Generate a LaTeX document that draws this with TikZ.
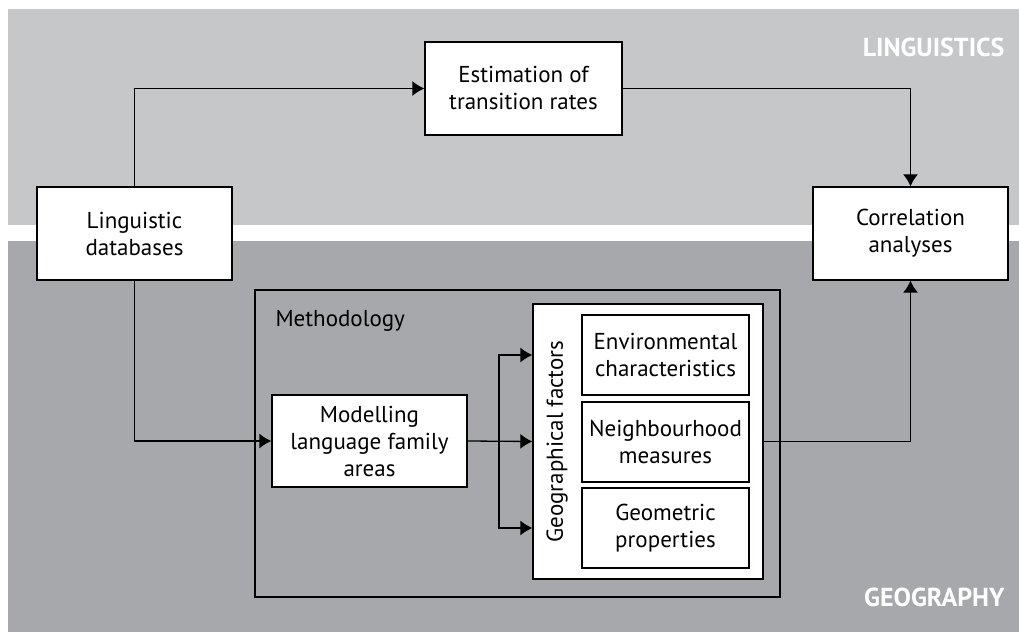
\documentclass[tikz,border=0pt]{standalone}
\usepackage{fontspec}
\setmainfont{PT Sans}
\usetikzlibrary{positioning,arrows.meta}
\definecolor{lingband}{HTML}{C6C7C9}
\definecolor{geoband}{HTML}{A7A8AB}

\begin{document}
\begin{tikzpicture}[x=1pt, y=1pt, >={Latex[length=12pt,width=15pt]},
    every node/.style={font=\fontsize{23}{27}\selectfont, align=center},
    block/.style={draw, fill=white, line width=1.3pt, inner sep=0pt},
    band/.style={font=\fontsize{26}{30}\selectfont\bfseries, text=white, anchor=east}
]
    \useasboundingbox (0,0) rectangle (1019,632);
    % Background bands
    \fill[lingband] (8,623) rectangle (1019,407);
    \fill[geoband] (8,391) rectangle (1019,0);
    \node[band] (LingLabel) at (1008,585) {LINGUISTICS};
    \node[band] (GeoLabel) at (1008,35) {GEOGRAPHY};

    % Methodology frame
    \node [draw,
        line width=1.3pt,
        minimum width=525pt,
        minimum height=307pt
    ] (Method) at (517.5,188.5) {};
    \node [anchor=base west] (MethodLabel) at (272,305) {Methodology};

    % Main blocks
    \node [block,
        minimum width=195pt,
        minimum height=93pt
    ] (LingDB) at (134.5,398.5) {Linguistic\\databases};
    \node [block,
        minimum width=197pt,
        minimum height=93pt
    ] (Estim) at (523.5,543.5) {Estimation of\\transition rates};
    \node [block,
        minimum width=195pt,
        minimum height=93pt
    ] (Corr) at (910.5,398.5) {Correlation\\analyses};
    \node [block,
        minimum width=195pt,
        minimum height=92pt
    ] (Model) at (369.5,191) {Modelling\\language family\\areas};

    % Geographical factors
    \node [block,
        minimum width=230pt,
        minimum height=275pt
    ] (Geo) at (648,190.5) {};
    \node [rotate=90] (GeoLabelV) at (557,190.5) {Geographical factors};
    \node [block,
        minimum width=167pt,
        minimum height=80pt
    ] (Env) at (665.5,277) {Environmental\\characteristics};
    \node [block,
        minimum width=167pt,
        minimum height=80pt
    ] (Neigh) at (665.5,190) {Neighbourhood\\measures};
    \node [block,
        minimum width=167pt,
        minimum height=80pt
    ] (Geom) at (665.5,104) {Geometric\\properties};

    % Arrows
    \begin{scope}[line width=1.3pt]
    \draw[->] (LingDB.north) |- (Estim.west);
    \draw[->] (Estim.east) -| (Corr.north);
    \draw[->] (LingDB.south) |- (Model.west);
    \draw[->] (Geo.east) -| (Corr.south);
    \coordinate (Split) at (499,191);
    \draw[->] (Model.east) -- (Geo.west);
    \draw[->] (Split) |- (Geo.west |- Env);
    \draw[->] (Split) |- (Geo.west |- Geom);
    \end{scope}

\end{tikzpicture}
\end{document}
